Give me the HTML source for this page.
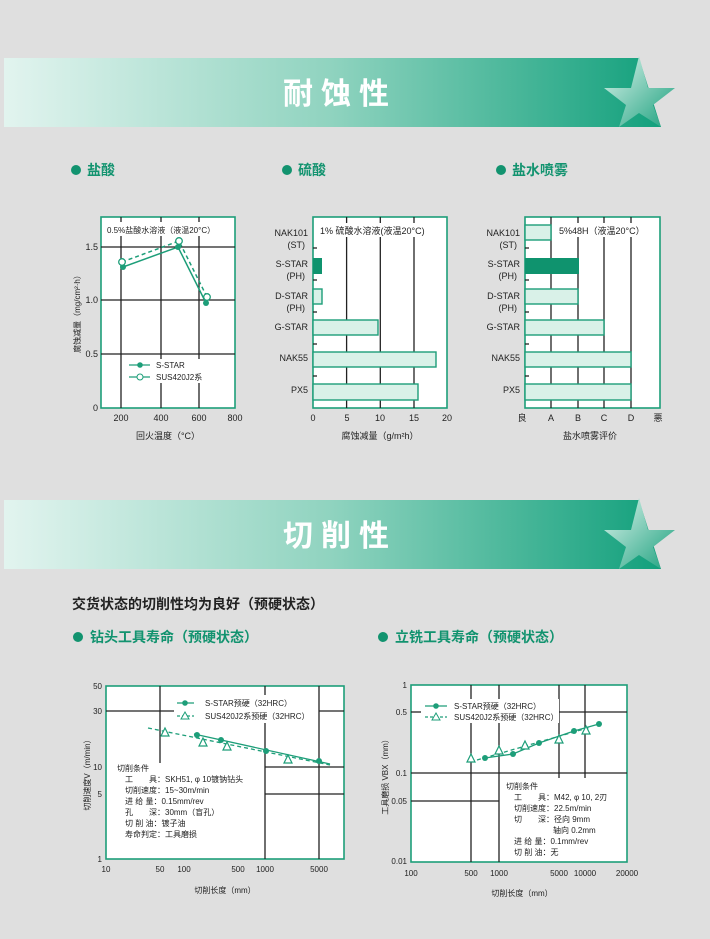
<!DOCTYPE html>
<html><head><meta charset="utf-8"><style>
html,body{margin:0;padding:0;background:#dfdfdf}
svg{display:block}
text{font-family:"Liberation Sans","Noto Sans CJK SC",sans-serif;fill:#222}
.s{font-size:8px}.m{font-size:9px}
.h{font-size:14px;font-weight:bold;fill:#12936f}
.g{stroke:#222;stroke-width:1.3}
.bx{fill:#fff;stroke:#1d9e79;stroke-width:1.6}
.bar{fill:#d9f1e8;stroke:#1d9e79;stroke-width:1.4}
</style></head><body>
<svg width="710" height="939" viewBox="0 0 710 939" xmlns="http://www.w3.org/2000/svg">
<defs>
<linearGradient id="bg" x1="0" x2="1" y1="0" y2="0">
<stop offset="0" stop-color="#e2f4ef"/><stop offset="0.5" stop-color="#8fd3bf"/><stop offset="1" stop-color="#12a07c"/></linearGradient>
<linearGradient id="sg" x1="0" x2="1" y1="0" y2="1">
<stop offset="0" stop-color="#e0f5ee"/><stop offset="1" stop-color="#1aa07d"/></linearGradient>
</defs>
<rect width="710" height="939" fill="#dfdfdf"/>

<!-- banner 1 -->
<polygon points="4,58 639,58 661,127 4,127" fill="url(#bg)"/>
<polygon points="639,56 648,88 675,88 653,105 661,127 639,113 619,127 626,105 604,88 631,88" fill="url(#sg)"/>
<text x="340" y="104" text-anchor="middle" style="font-size:30px;font-weight:bold;fill:#fff;letter-spacing:8px">耐蚀性</text>

<circle cx="76" cy="170" r="5" fill="#12936f"/><text x="87" y="175" class="h">盐酸</text>
<circle cx="287" cy="170" r="5" fill="#12936f"/><text x="298" y="175" class="h">硫酸</text>
<circle cx="501" cy="170" r="5" fill="#12936f"/><text x="512" y="175" class="h">盐水喷雾</text>

<!-- chart 1 -->
<rect x="101" y="217" width="134" height="191" class="bx"/>
<g class="g"><line x1="121" y1="217" x2="121" y2="408"/><line x1="161" y1="217" x2="161" y2="408"/><line x1="199" y1="217" x2="199" y2="408"/>
<line x1="101" y1="247" x2="235" y2="247"/><line x1="101" y1="300" x2="235" y2="300"/><line x1="101" y1="354" x2="235" y2="354"/></g>
<rect x="104" y="222" width="120" height="14" fill="#fff"/>
<text x="107" y="233" class="s">0.5%盐酸水溶液（液温20°C）</text>
<rect x="124" y="359" width="88" height="24" fill="#fff"/>
<polyline points="123,267 178,247 206,303" fill="none" stroke="#1d9e79" stroke-width="1.5"/>
<polyline points="122,262 179,241 207,297" fill="none" stroke="#1d9e79" stroke-width="1.5" stroke-dasharray="4,3"/>
<g fill="#1d9e79"><circle cx="123" cy="267" r="3"/><circle cx="178" cy="247" r="3"/><circle cx="206" cy="303" r="3"/></g>
<g fill="#fff" stroke="#1d9e79" stroke-width="1.3"><circle cx="122" cy="262" r="3.3"/><circle cx="179" cy="241" r="3.3"/><circle cx="207" cy="297" r="3.3"/></g>
<line x1="129" y1="365" x2="150" y2="365" stroke="#1d9e79" stroke-width="1.3"/><circle cx="140" cy="365" r="2.8" fill="#1d9e79"/>
<line x1="129" y1="377" x2="150" y2="377" stroke="#1d9e79" stroke-width="1.3"/><circle cx="140" cy="377" r="3" fill="#fff" stroke="#1d9e79"/>
<text x="156" y="368" class="s">S-STAR</text><text x="156" y="380" class="s">SUS420J2系</text>
<g class="m" text-anchor="end"><text x="98" y="250">1.5</text><text x="98" y="303">1.0</text><text x="98" y="357">0.5</text><text x="98" y="411">0</text></g>
<g class="m" text-anchor="middle"><text x="121" y="421">200</text><text x="161" y="421">400</text><text x="199" y="421">600</text><text x="235" y="421">800</text></g>
<text x="168" y="439" class="m" text-anchor="middle">回火温度（°C）</text>
<text transform="translate(80,312) rotate(-90)" class="s" text-anchor="middle">腐蚀减量（mg/cm²·h）</text>

<!-- chart 2 -->
<rect x="313" y="217" width="134" height="191" class="bx"/>
<g class="g"><line x1="346.6" y1="217" x2="346.6" y2="408"/><line x1="380.3" y1="217" x2="380.3" y2="408"/><line x1="414" y1="217" x2="414" y2="408"/></g>
<rect x="318" y="223" width="126" height="14" fill="#fff"/>
<text x="320" y="234" class="m">1% 硫酸水溶液(液温20°C)</text>
<rect x="313" y="258" width="9" height="16" fill="#0f936e"/>
<rect x="313" y="289" width="9" height="15" class="bar"/>
<rect x="313" y="320" width="65" height="15" class="bar"/>
<rect x="313" y="352" width="123" height="15" class="bar"/>
<rect x="313" y="384" width="105" height="16" class="bar"/>
<g class="g"><line x1="313" y1="248" x2="317" y2="248"/><line x1="313" y1="280" x2="317" y2="280"/><line x1="313" y1="312" x2="317" y2="312"/><line x1="313" y1="344" x2="317" y2="344"/><line x1="313" y1="376" x2="317" y2="376"/></g>
<g class="m" text-anchor="end"><text x="308" y="236">NAK101</text><text x="305" y="248">(ST)</text><text x="308" y="267">S-STAR</text><text x="305" y="279">(PH)</text><text x="308" y="299">D-STAR</text><text x="305" y="311">(PH)</text><text x="308" y="330">G-STAR</text><text x="308" y="361">NAK55</text><text x="308" y="393">PX5</text></g>
<g class="m" text-anchor="middle"><text x="313" y="421">0</text><text x="347" y="421">5</text><text x="380" y="421">10</text><text x="414" y="421">15</text><text x="447" y="421">20</text></g>
<text x="380" y="439" class="m" text-anchor="middle">腐蚀减量（g/m²h）</text>

<!-- chart 3 -->
<rect x="525" y="217" width="135" height="191" class="bx"/>
<g class="g"><line x1="551" y1="217" x2="551" y2="408"/><line x1="578" y1="217" x2="578" y2="408"/><line x1="604" y1="217" x2="604" y2="408"/><line x1="631" y1="217" x2="631" y2="408"/></g>
<rect x="556" y="223" width="100" height="14" fill="#fff"/>
<text x="559" y="234" class="m">5%48H（液温20°C）</text>
<rect x="525" y="225" width="26" height="15" class="bar"/>
<rect x="525" y="258" width="54" height="16" fill="#0f936e"/>
<rect x="525" y="289" width="53" height="15" class="bar"/>
<rect x="525" y="320" width="79" height="15" class="bar"/>
<rect x="525" y="352" width="106" height="15" class="bar"/>
<rect x="525" y="384" width="106" height="16" class="bar"/>
<g class="g"><line x1="525" y1="248" x2="529" y2="248"/><line x1="525" y1="280" x2="529" y2="280"/><line x1="525" y1="312" x2="529" y2="312"/><line x1="525" y1="344" x2="529" y2="344"/><line x1="525" y1="376" x2="529" y2="376"/></g>
<g class="m" text-anchor="end"><text x="520" y="236">NAK101</text><text x="517" y="248">(ST)</text><text x="520" y="267">S-STAR</text><text x="517" y="279">(PH)</text><text x="520" y="299">D-STAR</text><text x="517" y="311">(PH)</text><text x="520" y="330">G-STAR</text><text x="520" y="361">NAK55</text><text x="520" y="393">PX5</text></g>
<g class="m" text-anchor="middle"><text x="522" y="421">良</text><text x="551" y="421">A</text><text x="578" y="421">B</text><text x="604" y="421">C</text><text x="631" y="421">D</text><text x="658" y="421">悪</text></g>
<text x="590" y="439" class="m" text-anchor="middle">盐水喷雾评价</text>

<!-- banner 2 -->
<polygon points="4,500 639,500 661,569 4,569" fill="url(#bg)"/>
<polygon points="639,498 648,530 675,530 653,547 661,569 639,555 619,569 626,547 604,530 631,530" fill="url(#sg)"/>
<text x="340" y="546" text-anchor="middle" style="font-size:30px;font-weight:bold;fill:#fff;letter-spacing:8px">切削性</text>

<text x="72" y="609" style="font-size:14px;font-weight:bold;fill:#222">交货状态的切削性均为良好（预硬状态）</text>
<circle cx="78" cy="637" r="5" fill="#12936f"/><text x="90" y="642" class="h">钻头工具寿命（预硬状态）</text>
<circle cx="383" cy="637" r="5" fill="#12936f"/><text x="395" y="642" class="h">立铣工具寿命（预硬状态）</text>

<!-- chart 4 -->
<rect x="106" y="686" width="238" height="173" class="bx"/>
<g class="g"><line x1="160" y1="686" x2="160" y2="770"/><line x1="265" y1="686" x2="265" y2="859"/><line x1="319" y1="686" x2="319" y2="859"/>
<line x1="106" y1="711" x2="265" y2="711"/><line x1="319" y1="711" x2="344" y2="711"/>
<line x1="265" y1="767" x2="344" y2="767"/><line x1="265" y1="794" x2="344" y2="794"/></g>
<rect x="174" y="695" width="120" height="28" fill="#fff"/>
<polyline points="148,728 330,765" fill="none" stroke="#1d9e79" stroke-width="1.3" stroke-dasharray="4,3"/>
<polyline points="194,734 330,764" fill="none" stroke="#1d9e79" stroke-width="1.3"/>
<g fill="#1d9e79"><circle cx="197" cy="735" r="3"/><circle cx="221" cy="740" r="3"/><circle cx="266" cy="751" r="3"/><circle cx="319" cy="761" r="3"/></g>
<g fill="#fff" stroke="#1d9e79" stroke-width="1.2"><polygon points="165,728 169,736 161,736"/><polygon points="203,738 207,746 199,746"/><polygon points="227,742 231,750 223,750"/><polygon points="288,755 292,763 284,763"/></g>
<line x1="177" y1="703" x2="194" y2="703" stroke="#1d9e79" stroke-width="1.3"/><circle cx="185" cy="703" r="2.8" fill="#1d9e79"/>
<line x1="177" y1="716" x2="194" y2="716" stroke="#1d9e79" stroke-width="1.3" stroke-dasharray="3,2"/><polygon points="185,712 189,719 181,719" fill="#fff" stroke="#1d9e79"/>
<text x="205" y="706" class="s">S-STAR预硬（32HRC）</text><text x="205" y="719" class="s">SUS420J2系预硬（32HRC）</text>
<rect x="114" y="763" width="150" height="76" fill="#fff"/>
<g class="s"><text x="117" y="771">切削条件</text>
<text x="125" y="782">工　　具：SKH51, φ 10镀钠钻头</text>
<text x="125" y="793">切削速度：15~30m/min</text>
<text x="125" y="804">进 给 量：0.15mm/rev</text>
<text x="125" y="815">孔　　深：30mm（盲孔）</text>
<text x="125" y="826">切 削 油：镀子油</text>
<text x="125" y="837">寿命判定：工具磨损</text></g>
<g class="s" text-anchor="end"><text x="102" y="689">50</text><text x="102" y="714">30</text><text x="102" y="770">10</text><text x="102" y="797">5</text><text x="102" y="862">1</text></g>
<g class="s" text-anchor="middle"><text x="106" y="872">10</text><text x="160" y="872">50</text><text x="184" y="872">100</text><text x="238" y="872">500</text><text x="265" y="872">1000</text><text x="319" y="872">5000</text></g>
<text x="225" y="893" class="s" text-anchor="middle">切削长度（mm）</text>
<text transform="translate(90,773) rotate(-90)" class="s" text-anchor="middle">切削速度V（m/min）</text>

<!-- chart 5 -->
<rect x="411" y="685" width="216" height="177" class="bx"/>
<g class="g"><line x1="471" y1="685" x2="471" y2="862"/><line x1="499" y1="685" x2="499" y2="862"/><line x1="559" y1="685" x2="559" y2="800"/><line x1="585" y1="685" x2="585" y2="800"/>
<line x1="411" y1="712" x2="425" y2="712"/><line x1="559" y1="712" x2="627" y2="712"/>
<line x1="411" y1="773" x2="627" y2="773"/><line x1="411" y1="801" x2="499" y2="801"/></g>
<rect x="421" y="699" width="138" height="24" fill="#fff"/>
<polyline points="477,760 591,727" fill="none" stroke="#1d9e79" stroke-width="1.3" stroke-dasharray="4,3"/>
<polyline points="485,758 513,754 539,743 574,731 599,724" fill="none" stroke="#1d9e79" stroke-width="1.3"/>
<g fill="#1d9e79"><circle cx="485" cy="758" r="3"/><circle cx="513" cy="754" r="3"/><circle cx="539" cy="743" r="3"/><circle cx="574" cy="731" r="3"/><circle cx="599" cy="724" r="3"/></g>
<g fill="#fff" stroke="#1d9e79" stroke-width="1.2"><polygon points="471,754 475,762 467,762"/><polygon points="499,746 503,754 495,754"/><polygon points="525,741 529,749 521,749"/><polygon points="559,735 563,743 555,743"/><polygon points="586,726 590,734 582,734"/></g>
<line x1="425" y1="706" x2="447" y2="706" stroke="#1d9e79" stroke-width="1.3"/><circle cx="436" cy="706" r="2.8" fill="#1d9e79"/>
<line x1="425" y1="717" x2="447" y2="717" stroke="#1d9e79" stroke-width="1.3" stroke-dasharray="3,2"/><polygon points="436,713 440,720 432,720" fill="#fff" stroke="#1d9e79"/>
<text x="454" y="709" class="s">S-STAR预硬（32HRC）</text><text x="454" y="720" class="s">SUS420J2系预硬（32HRC）</text>
<rect x="502" y="778" width="105" height="80" fill="#fff"/>
<g class="s"><text x="506" y="789">切削条件</text>
<text x="514" y="800">工　　具：M42, φ 10, 2刃</text>
<text x="514" y="811">切削速度：22.5m/min</text>
<text x="514" y="822">切　　深：径向 9mm</text>
<text x="553" y="833">轴向 0.2mm</text>
<text x="514" y="844">进 给 量：0.1mm/rev</text>
<text x="514" y="855">切 削 油：无</text></g>
<g class="s" text-anchor="end"><text x="407" y="688">1</text><text x="407" y="715">0.5</text><text x="407" y="776">0.1</text><text x="407" y="804">0.05</text><text x="407" y="864">0.01</text></g>
<g class="s" text-anchor="middle"><text x="411" y="876">100</text><text x="471" y="876">500</text><text x="499" y="876">1000</text><text x="559" y="876">5000</text><text x="585" y="876">10000</text><text x="627" y="876">20000</text></g>
<text x="522" y="896" class="s" text-anchor="middle">切削长度（mm）</text>
<text transform="translate(388,775) rotate(-90)" class="s" text-anchor="middle">工具磨损 VBX（mm）</text>
</svg>
</body></html>
